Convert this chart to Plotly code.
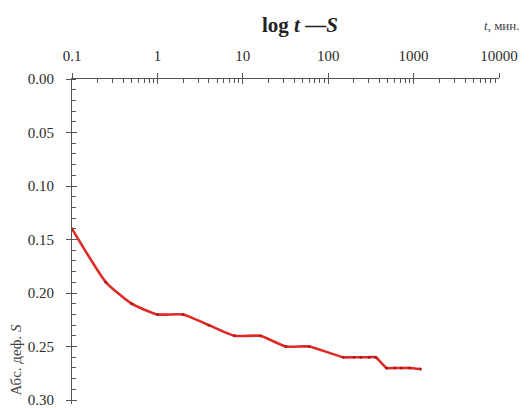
import plotly.graph_objects as go

t_min = [0.1, 0.25, 0.5, 1, 2, 4, 8, 16, 32, 60, 150, 200, 240, 300, 360, 480, 600, 720, 900, 1200]
s_abs = [0.14, 0.19, 0.21, 0.22, 0.22, 0.23, 0.24, 0.24, 0.25, 0.25, 0.26, 0.26, 0.26, 0.26, 0.26, 0.27, 0.27, 0.27, 0.27, 0.271]
x_ticks = [0.1, 1, 10, 100, 1000, 10000]
x_ticklabels = ["0.1", "1", "10", "100", "1000", "10000"]
y_ticks = [0.00, 0.05, 0.10, 0.15, 0.20, 0.25, 0.30]
y_ticklabels = ["0.00", "0.05", "0.10", "0.15", "0.20", "0.25", "0.30"]

W, H = 531, 408
L, R, T, B = 72, 32, 79, 0
Y_END = 0.3037
serif = "Liberation Serif, DejaVu Serif, serif"

x_minor = [k * 10 ** e for e in range(-1, 4) for k in range(2, 10)]

fig = go.Figure()
fig.add_trace(go.Scatter(
    x=t_min, y=s_abs, mode="lines+markers",
    line=dict(color="#dc2a26", width=2.6, shape="spline", smoothing=0.5),
    marker=dict(color="#b01a20", size=3),
    showlegend=False,
))

axis_col = "#555555"
fig.update_layout(
    width=W, height=H,
    margin=dict(l=L, r=R, t=T, b=B),
    paper_bgcolor="white", plot_bgcolor="white",
    font=dict(family=serif, size=15, color="#2a2a2a"),
    xaxis=dict(
        type="log", range=[-1, 4], side="top",
        tickvals=x_ticks, ticktext=x_ticklabels,
        ticks="outside", ticklen=5, tickwidth=1, tickcolor=axis_col,
        minor=dict(ticks="inside", ticklen=4, tickcolor=axis_col, tickvals=x_minor, showgrid=False),
        showline=True, linecolor=axis_col, linewidth=1,
        showgrid=False, zeroline=False,
        ticklabelstandoff=6, ticklabeloverflow="allow",
    ),
    yaxis=dict(
        range=[Y_END, 0.0],
        tickvals=y_ticks, ticktext=y_ticklabels,
        ticks="outside", ticklen=5, tickwidth=1, tickcolor=axis_col,
        minor=dict(ticks="inside", ticklen=4, tickcolor=axis_col, dtick=0.01, showgrid=False),
        showline=True, linecolor=axis_col, linewidth=1,
        showgrid=False, zeroline=False,
        ticklabelstandoff=9, ticklabeloverflow="allow",
    ),
    xaxis2=dict(type="log", range=[-1, 4], overlaying="x", side="top", anchor="y2",
                tickvals=x_ticks, showticklabels=False, ticks="inside", ticklen=5,
                tickcolor=axis_col, showgrid=False, zeroline=False, showline=False),
    yaxis2=dict(range=[Y_END, 0.0], overlaying="y", anchor="x2",
                tickvals=y_ticks, showticklabels=False, ticks="inside", ticklen=5,
                tickcolor=axis_col, showgrid=False, zeroline=False, showline=False),
)
fig.add_trace(go.Scatter(x=[None], y=[None], xaxis="x2", yaxis="y2", showlegend=False, hoverinfo="skip"))

PH = H - T - B
fig.add_annotation(
    text="<b>log <i>t</i> —<i>S</i></b>", xref="paper", yref="paper",
    x=(300 - L) / (W - L - R), y=1 + (T - 24) / PH,
    showarrow=False, font=dict(family=serif, size=21, color="#222222"),
    xanchor="center", yanchor="middle",
)
fig.add_annotation(
    text="<i>t</i>, мин.", xref="paper", yref="paper",
    x=(522 - L) / (W - L - R), y=1 + (T - 25) / PH,
    showarrow=False, font=dict(family=serif, size=13, color="#444444"),
    xanchor="right", yanchor="middle",
)
fig.add_annotation(
    text="Абс. деф. <i>S</i>", xref="paper", yref="paper",
    x=(16 - L) / (W - L - R), y=1 - (363 - T) / PH,
    showarrow=False, textangle=-90, font=dict(family=serif, size=15, color="#444444"),
    xanchor="center", yanchor="middle",
)

fig.write_html("out.html")
